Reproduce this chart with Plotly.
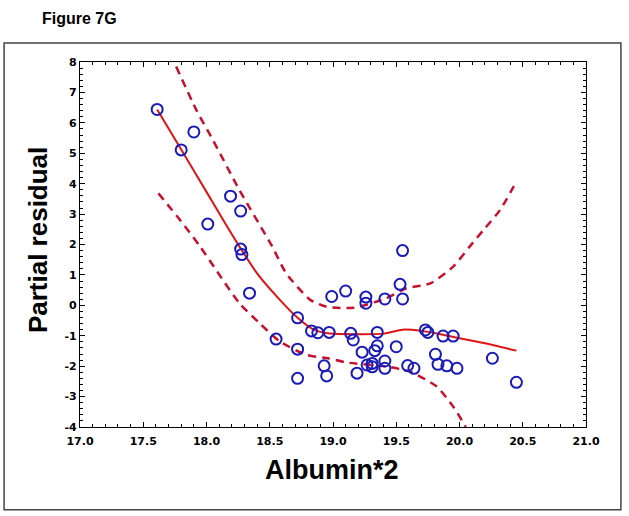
import plotly.graph_objects as go

# Scatter points (partial residuals)
pts_x = [17.61, 17.90, 17.80, 18.19, 18.27, 18.01, 18.27, 18.28, 18.34, 18.72,
         18.83, 18.88, 18.97, 18.55, 18.72, 18.72, 18.93, 18.95, 18.99, 19.10,
         19.26, 19.26, 19.41, 19.53, 19.55, 19.55, 19.14, 19.16, 19.35, 19.35,
         19.33, 19.23, 19.50, 19.19, 19.27, 19.31, 19.31, 19.41, 19.41, 19.59,
         19.64, 19.73, 19.75, 19.87, 19.95, 19.81, 19.83, 19.90, 19.98, 20.26,
         20.45]
pts_y = [6.44, 5.70, 5.11, 3.59, 3.10, 2.67, 1.85, 1.67, 0.40, -0.41,
         -0.84, -0.90, -0.89, -1.11, -1.44, -2.40, -1.99, -2.32, 0.29, 0.47,
         0.27, 0.07, 0.21, 0.69, 0.21, 1.80, -0.92, -1.14, -0.89, -1.33,
         -1.49, -1.54, -1.36, -2.23, -1.96, -1.91, -2.02, -1.83, -2.07, -1.98,
         -2.07, -0.81, -0.89, -1.01, -1.01, -1.61, -1.94, -1.99, -2.07, -1.74,
         -2.53]

# Smoothed fit
fit_x = [17.61, 17.80, 18.00, 18.20, 18.40, 18.58, 18.72, 18.84, 18.96, 19.20,
         19.40, 19.55, 19.70, 19.85, 20.00, 20.20, 20.45]
fit_y = [6.44, 5.12, 3.73, 2.34, 1.05, 0.18, -0.41, -0.78, -0.92, -0.95,
         -0.93, -0.80, -0.84, -0.95, -1.08, -1.25, -1.49]

# Confidence bands
up_x = [17.76, 17.92, 18.05, 18.26, 18.52, 18.63, 18.82, 18.95, 19.16, 19.42,
        19.58, 19.77, 19.95, 20.08, 20.19, 20.32, 20.45]
up_y = [7.85, 6.42, 5.44, 3.79, 1.93, 1.05, 0.18, -0.05, -0.08, 0.23,
        0.56, 0.72, 1.27, 1.93, 2.48, 3.13, 4.07]
lo_x = [17.62, 17.79, 17.95, 18.26, 18.42, 18.58, 18.79, 18.96, 19.11, 19.42,
        19.61, 19.82, 19.95, 20.05]
lo_y = [3.68, 2.81, 1.93, 0.07, -0.59, -1.19, -1.63, -1.74, -1.88, -2.01,
        -2.18, -2.67, -3.33, -4.00]

x_ticks = [17.0, 17.5, 18.0, 18.5, 19.0, 19.5, 20.0, 20.5, 21.0]
y_ticks = list(range(-4, 9))

fig = go.Figure()
band_line = dict(color="#c8102e", width=2.5, dash="8px,6px", shape="spline", smoothing=0.6)
fig.add_trace(go.Scatter(x=up_x, y=up_y, mode="lines", line=band_line, hoverinfo="skip"))
fig.add_trace(go.Scatter(x=lo_x, y=lo_y, mode="lines", line=band_line, hoverinfo="skip"))
fig.add_trace(go.Scatter(x=fit_x, y=fit_y, mode="lines",
                         line=dict(color="#e01414", width=2, shape="spline", smoothing=0.6)))
fig.add_trace(go.Scatter(x=pts_x, y=pts_y, mode="markers",
                         marker=dict(symbol="circle-open", size=11, color="#1a1ab8",
                                     line=dict(width=2, color="#1a1ab8"))))

tick_font = dict(family="DejaVu Sans", size=11, color="black")
fig.update_xaxes(range=[17.0, 21.0], tickvals=x_ticks,
                 ticktext=[f"<b>{v:.1f}</b>" for v in x_ticks],
                 ticks="inside", ticklen=5, tickwidth=1, tickcolor="black",
                 ticklabelstandoff=4,
                 minor=dict(dtick=0.1, ticks="inside", ticklen=3, tickcolor="black"),
                 showline=True, linecolor="black", linewidth=1.2, mirror="allticks",
                 showgrid=False, zeroline=False, tickfont=tick_font)
fig.update_yaxes(range=[-4, 8], tickvals=y_ticks,
                 ticktext=[f"<b>{v}</b>" for v in y_ticks],
                 ticks="inside", ticklen=5, tickwidth=1, tickcolor="black",
                 minor=dict(dtick=0.2, ticks="inside", ticklen=3, tickcolor="black"),
                 showline=True, linecolor="black", linewidth=1.2, mirror="allticks",
                 showgrid=False, zeroline=False, tickfont=tick_font)

fig.update_layout(
    width=629, height=516,
    margin=dict(l=80, r=43, t=62, b=89),
    paper_bgcolor="white", plot_bgcolor="white",
    showlegend=False,
    shapes=[dict(type="rect", xref="paper", yref="paper",
                 x0=-0.150, x1=1.069, y0=-0.227, y1=1.052,
                 line=dict(color="#444444", width=1.5))],
    annotations=[
        dict(text="<b>Figure 7G</b>", xref="paper", yref="paper",
             x=-0.079, y=1.1205, xanchor="left", yanchor="middle", showarrow=False,
             font=dict(family="Liberation Sans", size=16, color="black")),
        dict(text="<b>Albumin*2</b>", xref="paper", yref="paper",
             x=0.498, y=-0.118, xanchor="center", yanchor="middle", showarrow=False,
             font=dict(family="Liberation Sans", size=27, color="black")),
        dict(text="<b>Partial residual</b>", xref="paper", yref="paper",
             x=-0.083, y=0.512, xanchor="center", yanchor="middle", showarrow=False,
             textangle=-90,
             font=dict(family="Liberation Sans", size=26, color="black")),
    ],
)

fig.write_html("out.html", config={"displayModeBar": False},
               post_script="document.body.style.margin='0px';document.body.style.padding='0px';")
